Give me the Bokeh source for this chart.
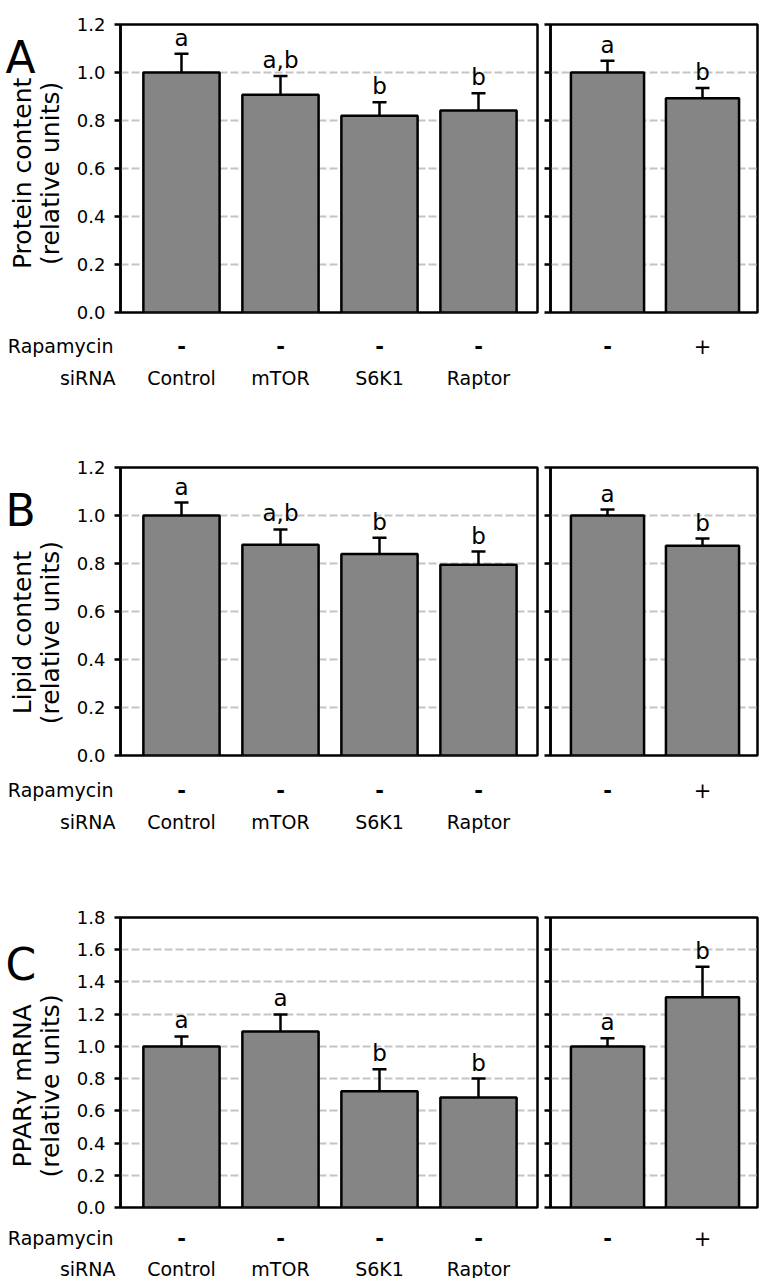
import math
from bokeh.plotting import figure
from bokeh.models import (Range1d, FixedTicker, PrintfTickFormatter, Whisker, TeeHead,
                          ColumnDataSource, LabelSet)
from bokeh.layouts import column, row
from bokeh.core.properties import value
from bokeh.embed import file_html
from bokeh.resources import INLINE

# ---------------- data ----------------
siRNA = ["Control", "mTOR", "S6K1", "Raptor"]
rapamycin_left = ["-", "-", "-", "-"]
rapamycin_right = ["-", "+"]

protein_mean = [1.00, 0.907, 0.820, 0.842]
protein_se = [0.078, 0.078, 0.056, 0.072]
protein_sig = ["a", "a,b", "b", "b"]
protein_rapa_mean = [1.00, 0.893]
protein_rapa_se = [0.049, 0.042]
protein_rapa_sig = ["a", "b"]

lipid_mean = [1.00, 0.878, 0.840, 0.795]
lipid_se = [0.054, 0.064, 0.067, 0.055]
lipid_sig = ["a", "a,b", "b", "b"]
lipid_rapa_mean = [1.00, 0.874]
lipid_rapa_se = [0.025, 0.030]
lipid_rapa_sig = ["a", "b"]

ppar_mean = [1.00, 1.093, 0.721, 0.682]
ppar_se = [0.062, 0.105, 0.137, 0.118]
ppar_sig = ["a", "a", "b", "b"]
ppar_rapa_mean = [1.00, 1.305]
ppar_rapa_se = [0.051, 0.190]
ppar_rapa_sig = ["a", "b"]

ticks_12 = [0.0, 0.2, 0.4, 0.6, 0.8, 1.0, 1.2]
ticks_18 = [0.0, 0.2, 0.4, 0.6, 0.8, 1.0, 1.2, 1.4, 1.6, 1.8]

titles = [["Protein content", "(relative units)"],
          ["Lipid content", "(relative units)"],
          ["PPAR\u03b3 mRNA", "(relative units)"]]
letters = ["A", "B", "C"]

# ---------------- style / geometry ----------------
FONT = "DejaVu Sans"
BAR_FILL = "#858585"
GRID = "#c4c4c4"

S = 64                       # side strip (panel letter + y title)
LB, LF, LR = 56, 417, 6      # left panel: border left, frame width, border right
RB, RF, RR = 7, 207, 3       # right panel
LW = LB + LF + LR
RW = RB + RF + RR

LEFT_XR = (-0.616, 3.596)
RIGHT_XR = (-0.60, 1.579)


def panel_fig(width, bl, br, bt, fh, bb, xr, ticks, mean, se, sig, show_labels):
    p = figure(width=width, height=bt + fh + bb, x_range=Range1d(*xr),
               y_range=Range1d(ticks[0], ticks[-1]),
               output_backend="svg", toolbar_location=None,
               x_axis_location=None,
               min_border_left=bl, min_border_right=br,
               min_border_top=bt, min_border_bottom=bb)
    p.background_fill_color = "white"
    p.border_fill_color = "white"
    p.outline_line_color = "black"
    p.outline_line_width = 2.5
    p.outline_line_alpha = 1.0

    ax = p.yaxis[0]
    ax.ticker = FixedTicker(ticks=ticks)
    ax.formatter = PrintfTickFormatter(format="%.1f")
    ax.axis_line_width = 2.5
    ax.major_tick_line_width = 2.5
    ax.major_tick_out = 6
    ax.major_tick_in = 0
    ax.minor_tick_out = 0
    ax.minor_tick_in = 0
    ax.major_label_text_font = FONT
    if show_labels:
        ax.major_label_text_font_size = "18px"
        ax.major_label_text_color = "black"
        ax.major_label_standoff = 9
    else:
        ax.major_label_text_font_size = "1px"
        ax.major_label_text_color = None
        ax.major_label_standoff = 0

    g = p.ygrid[0]
    g.ticker = FixedTicker(ticks=ticks[1:-1])
    g.grid_line_color = GRID
    g.grid_line_width = 2
    g.grid_line_dash = "8 3"
    for xg in p.xgrid:
        xg.visible = False

    n = len(mean)
    src = ColumnDataSource(dict(
        x=list(range(n)),
        mean=mean,
        upper=[m + s for m, s in zip(mean, se)],
        sig=sig,
    ))
    p.vbar(x="x", top="mean", width=0.77, bottom=0, source=src,
           fill_color=BAR_FILL, line_color="black", line_width=2.5)
    p.add_layout(Whisker(base="x", upper="upper", lower="mean", source=src,
                         dimension="height", line_color="black", line_width=2.5,
                         lower_head=None,
                         upper_head=TeeHead(size=14, line_width=2.5,
                                            line_color="black")))
    p.add_layout(LabelSet(x="x", y="upper", text="sig", source=src,
                          text_align="center", text_baseline="alphabetic",
                          y_offset=8, text_font=value(FONT),
                          text_font_size="23px", text_color="black"))
    return p


def strip_fig(width, height, xr):
    p = figure(width=width, height=height, x_range=Range1d(*xr),
               y_range=Range1d(height, 0),
               output_backend="svg", toolbar_location=None,
               x_axis_location=None, y_axis_location=None,
               min_border=0, min_border_left=0, min_border_right=0,
               min_border_top=0, min_border_bottom=0)
    p.outline_line_color = None
    p.background_fill_color = "white"
    p.border_fill_color = "white"
    for gr in list(p.xgrid) + list(p.ygrid):
        gr.visible = False
    return p


def block(k, bt, fh, bb, ticks, mean, se, sig, rmean, rse, rsig,
          label_h, row1, row2, letter_base):
    ph = bt + fh + bb
    # side strip: panel letter + y-axis title
    side = strip_fig(S, ph, (0, S))
    side.text(x=[5], y=[letter_base], text=[letters[k]], text_align="left",
              text_baseline="alphabetic", text_font=value(FONT),
              text_font_size="44px", text_color="black")
    yc = bt + fh / 2
    side.text(x=[22, 50], y=[yc, yc], text=titles[k], angle=math.pi / 2,
              text_align="center", text_baseline="middle",
              text_font=value(FONT), text_font_size="25px", text_color="black")

    left = panel_fig(LW, LB, LR, bt, fh, bb, LEFT_XR, ticks, mean, se, sig, True)
    right = panel_fig(RW, RB, RR, bt, fh, bb, RIGHT_XR, ticks, rmean, rse, rsig, False)

    # label strips aligned with the panels' x scales
    u = (LEFT_XR[1] - LEFT_XR[0]) / LF
    lxr = (LEFT_XR[0] - (S + LB) * u, LEFT_XR[1] + LR * u)
    ls = strip_fig(S + LW, label_h, lxr)
    n = len(siRNA)
    lsrc = ColumnDataSource(dict(
        x=list(range(n)), r1=[row1] * n, r2=[row2] * n,
        rapa=rapamycin_left, name=siRNA,
        style=["bold" if s == "-" else "normal" for s in rapamycin_left]))
    ls.text(x="x", y="r1", text="rapa", source=lsrc, text_align="center",
            text_baseline="middle", text_font=value(FONT), text_font_size="21px",
            text_font_style="style", text_color="black")
    ls.text(x="x", y="r2", text="name", source=lsrc, text_align="center",
            text_baseline="middle", text_font=value(FONT), text_font_size="19px",
            text_color="black")
    ls.text(x=[LEFT_XR[0], LEFT_XR[0]], y=[row1, row2], text=["Rapamycin", "siRNA"],
            x_offset=[-7, -5], text_align="right", text_baseline="middle",
            text_font=value(FONT), text_font_size="19px", text_color="black")

    ur = (RIGHT_XR[1] - RIGHT_XR[0]) / RF
    rxr = (RIGHT_XR[0] - RB * ur, RIGHT_XR[1] + RR * ur)
    rs = strip_fig(RW, label_h, rxr)
    m = len(rapamycin_right)
    rsrc = ColumnDataSource(dict(
        x=list(range(m)), r1=[row1] * m, rapa=rapamycin_right,
        style=["bold" if s == "-" else "normal" for s in rapamycin_right]))
    rs.text(x="x", y="r1", text="rapa", source=rsrc, text_align="center",
            text_baseline="middle", text_font=value(FONT), text_font_size="21px",
            text_font_style="style", text_color="black")

    return column(row(side, left, right), row(ls, rs))


blk_a = block(0, 24, 288, 13, ticks_12, protein_mean, protein_se, protein_sig,
              protein_rapa_mean, protein_rapa_se, protein_rapa_sig,
              75, 20, 52, 37)
blk_b = block(1, 67, 288, 13, ticks_12, lipid_mean, lipid_se, lipid_sig,
              lipid_rapa_mean, lipid_rapa_se, lipid_rapa_sig,
              75, 21, 53, 55)
blk_c = block(2, 74, 290, 13, ticks_18, ppar_mean, ppar_se, ppar_sig,
              ppar_rapa_mean, ppar_rapa_se, ppar_rapa_sig,
              58, 17, 48, 61)

layout = column(blk_a, blk_b, blk_c)

open("out.html", "w").write(file_html(layout, INLINE))
